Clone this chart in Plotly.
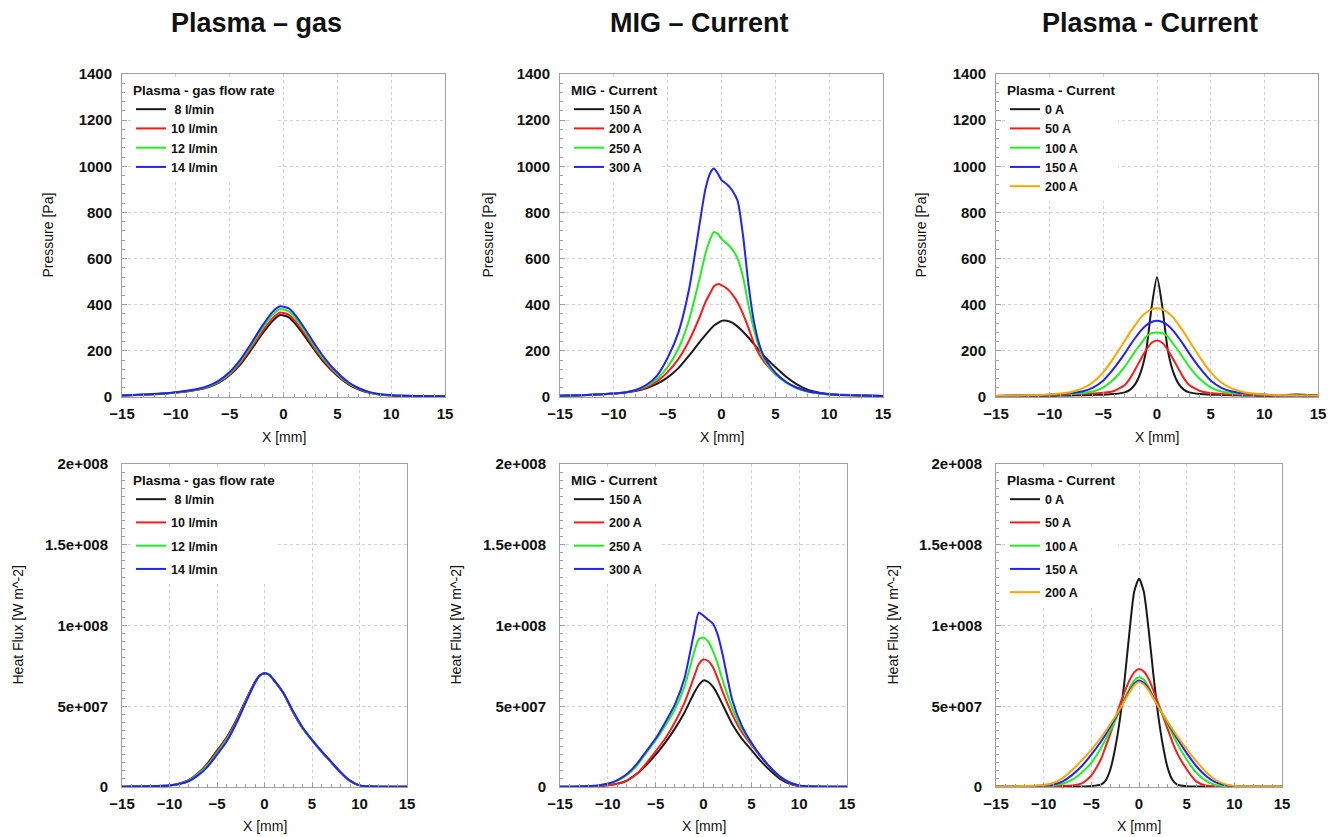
import plotly.graph_objects as go

W, H = 1341, 837
OFF = 8  # page body margin offset, in px
FONT = "Liberation Sans, Arial, sans-serif"

# ---------------- DATA ----------------
# Row 1 : Pressure [Pa]
x_p_gas = [-15, -13, -11, -10, -9, -8, -7, -6, -5, -4, -3, -2, -1, -0.3, 0.5, 1, 2, 3, 4, 5, 6, 7, 8, 9, 10, 11, 13, 15]
p_gas_8 = [6, 10, 15, 19, 24, 31, 42, 62, 95, 142, 205, 272, 330, 355, 345, 322, 262, 196, 138, 92, 56, 32, 18, 10, 7, 5, 3, 2]
p_gas_10 = [6, 10, 15, 19, 25, 32, 44, 65, 99, 148, 213, 282, 342, 366, 356, 333, 272, 204, 144, 96, 59, 34, 19, 11, 7, 5, 3, 2]
p_gas_12 = [7, 11, 16, 20, 26, 34, 46, 68, 103, 155, 223, 295, 357, 381, 371, 347, 284, 213, 151, 101, 62, 36, 20, 11, 8, 5, 3, 2]
p_gas_14 = [7, 11, 16, 21, 27, 35, 48, 71, 108, 162, 232, 306, 370, 393, 384, 360, 295, 222, 158, 106, 65, 38, 21, 12, 8, 5, 4, 3]

x_p_mig = [-15, -13, -11, -10, -9, -8, -7, -6, -5, -4, -3, -2, -1.5, -1, -0.7, -0.3, 0, 0.5, 1, 1.5,
           2, 2.5, 3, 3.5, 4, 5, 6, 7, 8, 9, 10, 11, 13, 15]
p_mig_150 = [5, 8, 12, 15, 19, 26, 38, 57, 85, 125, 180, 240, 268, 295, 310, 322, 330, 330, 322, 305,
             283, 258, 230, 202, 175, 130, 88, 55, 32, 20, 13, 10, 7, 4]
p_mig_200 = [5, 8, 12, 15, 20, 28, 42, 68, 108, 165, 245, 350, 410, 455, 480, 490, 485, 470, 445, 410,
             360, 300, 235, 185, 150, 100, 65, 40, 25, 16, 11, 9, 6, 4]
p_mig_250 = [5, 8, 12, 15, 20, 30, 47, 78, 130, 210, 335, 520, 620, 690, 715, 705, 685, 665, 640, 600,
             520, 400, 295, 215, 160, 100, 62, 38, 24, 16, 11, 9, 6, 4]
p_mig_300 = [5, 8, 12, 15, 20, 30, 52, 92, 170, 280, 470, 760, 900, 975, 990, 965, 940, 922, 895, 850,
             700, 490, 330, 230, 170, 105, 65, 40, 25, 17, 12, 9, 6, 4]

x_p_pc = [-15, -13, -11, -10, -9, -8, -7, -6, -5, -4, -3, -2.5, -2, -1.5, -1, -0.5, 0, 0.5, 1, 1.5,
          2, 2.5, 3, 4, 5, 6, 7, 8, 9, 10, 11, 12, 13, 14, 15]
p_pc_0 = [3, 4, 5, 5, 6, 7, 8, 9, 10, 13, 20, 32, 58, 110, 205, 390, 520, 390, 205, 110,
          58, 32, 20, 13, 10, 9, 8, 7, 6, 5, 6, 9, 11, 9, 6]
p_pc_50 = [4, 6, 8, 9, 10, 12, 13, 15, 18, 26, 52, 82, 122, 165, 205, 235, 245, 235, 205, 165,
           122, 82, 52, 26, 17, 13, 11, 10, 9, 8, 7, 7, 6, 5, 4]
p_pc_100 = [4, 6, 8, 10, 12, 14, 17, 24, 42, 78, 132, 166, 200, 231, 262, 277, 280, 277, 262, 231,
            200, 166, 132, 78, 42, 24, 17, 14, 12, 10, 8, 7, 6, 5, 4]
p_pc_150 = [4, 6, 8, 10, 13, 17, 24, 40, 72, 125, 189, 225, 258, 288, 311, 325, 330, 325, 311, 288,
            258, 225, 189, 125, 72, 40, 24, 17, 13, 10, 8, 7, 6, 5, 4]
p_pc_200 = [5, 7, 9, 11, 15, 22, 36, 63, 108, 172, 244, 281, 314, 345, 366, 380, 385, 380, 366, 345,
            314, 281, 244, 172, 108, 63, 36, 22, 15, 11, 9, 8, 7, 6, 5]

# Row 2 : Heat flux [1e7 W m^-2]
x_h_gas = [-15, -12, -10, -9, -8, -7, -6, -5, -4, -3, -2, -1, -0.5, 0, 0.5, 1, 2, 3, 4, 5, 6, 7, 8, 9, 10, 11, 12, 15]
h_gas_8 = [0.02, 0.05, 0.1, 0.2, 0.42, 0.85, 1.45, 2.25, 3.05, 4.1, 5.35, 6.5, 6.9, 7.05, 6.95, 6.6, 5.8, 4.65, 3.65, 2.9, 2.2, 1.55, 0.9, 0.38, 0.1, 0.04, 0.02, 0.01]
h_gas_10 = [0.02, 0.05, 0.1, 0.2, 0.4, 0.82, 1.4, 2.2, 3.0, 4.05, 5.3, 6.48, 6.9, 7.05, 6.95, 6.6, 5.8, 4.65, 3.65, 2.9, 2.2, 1.55, 0.9, 0.38, 0.1, 0.04, 0.02, 0.01]
h_gas_12 = [0.02, 0.05, 0.1, 0.19, 0.38, 0.78, 1.33, 2.1, 2.9, 3.95, 5.25, 6.45, 6.9, 7.05, 6.95, 6.61, 5.81, 4.67, 3.67, 2.91, 2.21, 1.56, 0.91, 0.39, 0.1, 0.04, 0.02, 0.01]
h_gas_14 = [0.02, 0.05, 0.1, 0.18, 0.35, 0.72, 1.25, 2.0, 2.8, 3.9, 5.2, 6.45, 6.9, 7.05, 6.95, 6.62, 5.82, 4.7, 3.7, 2.92, 2.22, 1.57, 0.92, 0.4, 0.1, 0.04, 0.02, 0.01]

x_h_mig = [-15, -13, -11, -10, -9, -8, -7, -6, -5, -4, -3, -2, -1, -0.5, 0, 0.5, 1, 1.5, 2, 3,
           4, 5, 6, 7, 8, 9, 10, 11, 13, 15]
h_mig_150 = [0.01, 0.02, 0.05, 0.1, 0.2, 0.4, 0.8, 1.35, 2.0, 2.75, 3.6, 4.6, 5.8, 6.3, 6.6, 6.5, 6.2, 5.7, 5.1, 3.9,
             3.0, 2.3, 1.6, 1.0, 0.5, 0.2, 0.06, 0.03, 0.02, 0.01]
h_mig_200 = [0.01, 0.02, 0.05, 0.1, 0.2, 0.4, 0.8, 1.45, 2.2, 3.0, 4.0, 5.2, 6.8, 7.6, 7.9, 7.8, 7.4, 6.7, 5.9, 4.5,
             3.4, 2.6, 1.85, 1.2, 0.6, 0.25, 0.08, 0.04, 0.02, 0.01]
h_mig_250 = [0.01, 0.03, 0.1, 0.2, 0.4, 0.75, 1.3, 2.1, 2.9, 3.8, 4.8, 6.2, 8.3, 9.15, 9.25, 9.0, 8.4, 7.6, 6.6, 4.9,
             3.6, 2.7, 1.9, 1.2, 0.65, 0.28, 0.1, 0.05, 0.02, 0.01]
h_mig_300 = [0.01, 0.03, 0.1, 0.2, 0.42, 0.8, 1.4, 2.2, 3.0, 4.0, 5.1, 6.7, 9.5, 10.8, 10.6, 10.35, 10.1, 9.4, 8.2, 5.4,
             3.8, 2.75, 1.9, 1.2, 0.65, 0.28, 0.1, 0.05, 0.02, 0.01]

x_h_pc = [-15, -13, -11, -10, -9, -8, -7, -6, -5, -4, -3.5, -3, -2.5, -2, -1.5, -1, -0.5, 0, 0.5, 1,
          1.5, 2, 2.5, 3, 3.5, 4, 5, 6, 7, 8, 9, 10, 11, 13, 15]
h_pc_0 = [0.01, 0.01, 0.01, 0.01, 0.01, 0.01, 0.02, 0.03, 0.06, 0.15, 0.4, 1.1, 2.4, 4.2, 6.7, 9.6, 12.1, 12.9, 12.1, 9.8,
          7.0, 4.5, 2.6, 1.2, 0.45, 0.15, 0.05, 0.03, 0.02, 0.01, 0.01, 0.01, 0.01, 0.01, 0.01]
h_pc_50 = [0.01, 0.02, 0.03, 0.04, 0.05, 0.07, 0.1, 0.22, 0.7, 1.7, 2.5, 3.3, 4.2, 5.1, 5.9, 6.6, 7.1, 7.3, 7.15, 6.7,
           6.0, 5.2, 4.4, 3.6, 2.8, 2.1, 1.1, 0.35, 0.1, 0.06, 0.04, 0.03, 0.02, 0.02, 0.01]
h_pc_100 = [0.01, 0.03, 0.05, 0.07, 0.1, 0.2, 0.45, 0.9, 1.5, 2.4, 2.95, 3.5, 4.1, 4.8, 5.5, 6.1, 6.6, 6.8, 6.65, 6.2,
            5.6, 5.0, 4.45, 3.9, 3.3, 2.7, 1.7, 0.9, 0.4, 0.12, 0.06, 0.04, 0.03, 0.02, 0.01]
h_pc_150 = [0.01, 0.03, 0.06, 0.09, 0.15, 0.35, 0.75, 1.3, 2.0, 2.8, 3.25, 3.75, 4.25, 4.8, 5.4, 5.95, 6.4, 6.6, 6.45, 6.1,
            5.55, 5.0, 4.5, 4.0, 3.5, 3.0, 2.1, 1.3, 0.7, 0.3, 0.12, 0.05, 0.03, 0.02, 0.01]
h_pc_200 = [0.02, 0.04, 0.08, 0.12, 0.25, 0.55, 1.05, 1.65, 2.3, 3.05, 3.45, 3.9, 4.35, 4.85, 5.35, 5.85, 6.3, 6.5, 6.35, 6.0,
            5.5, 5.0, 4.5, 4.05, 3.6, 3.15, 2.35, 1.6, 0.95, 0.45, 0.18, 0.07, 0.04, 0.03, 0.02]
HF_UNIT = 1e7

col_titles = ["Plasma \u2013 gas", "MIG \u2013 Current", "Plasma - Current"]
legend_titles = ["Plasma - gas flow rate", "MIG - Current", "Plasma - Current"]
gas_names = [" 8 l/min", "10 l/min", "12 l/min", "14 l/min"]
mig_names = ["150 A", "200 A", "250 A", "300 A"]
pc_names = ["0 A", "50 A", "100 A", "150 A", "200 A"]
x_ticks = [-15, -10, -5, 0, 5, 10, 15]
p_ticks = [0, 200, 400, 600, 800, 1000, 1200, 1400]
h_ticks = [0, 5e7, 1e8, 1.5e8, 2e8]
h_ticktext = ["0", "5e+007", "1e+008", "1.5e+008", "2e+008"]

COLORS = ["#1a1a1a", "#ff1a1a", "#22ee22", "#2222ff", "#ffa500"]

# ---------------- LAYOUT (pixel boxes, screen coords) ----------------
boxes = [
    (122, 74, 445, 397), (560, 74, 883, 397), (996, 74, 1318, 397),
    (122, 464, 407, 787), (560, 464, 847, 787), (996, 464, 1282, 787),
]

panels = [
    (x_p_gas, [p_gas_8, p_gas_10, p_gas_12, p_gas_14], gas_names, 1.0),
    (x_p_mig, [p_mig_150, p_mig_200, p_mig_250, p_mig_300], mig_names, 1.0),
    (x_p_pc, [p_pc_0, p_pc_50, p_pc_100, p_pc_150, p_pc_200], pc_names, 1.0),
    (x_h_gas, [h_gas_8, h_gas_10, h_gas_12, h_gas_14], gas_names, HF_UNIT),
    (x_h_mig, [h_mig_150, h_mig_200, h_mig_250, h_mig_300], mig_names, HF_UNIT),
    (x_h_pc, [h_pc_0, h_pc_50, h_pc_100, h_pc_150, h_pc_200], pc_names, HF_UNIT),
]

fig = go.Figure()
layout = dict(
    width=W, height=H, margin=dict(l=0, r=0, t=0, b=0, autoexpand=False),
    paper_bgcolor="white", plot_bgcolor="white",
    font=dict(family=FONT, size=14, color="#111"),
    annotations=[],
)

def px_x(v):
    return (v - OFF) / W

def px_y(v):
    return 1 - (v - OFF) / H

for i, ((xs, ys_list, names, unit), box) in enumerate(zip(panels, boxes)):
    n = i + 1
    sfx = "" if n == 1 else str(n)
    l, t, r, b = box
    leg = "legend" + sfx
    for j, (ys, nm) in enumerate(zip(ys_list, names)):
        fig.add_trace(go.Scatter(
            x=xs, y=[v * unit for v in ys], mode="lines", name=nm,
            line=dict(color=COLORS[j], width=2, shape="spline", smoothing=0.6),
            xaxis="x" + sfx, yaxis="y" + sfx, legend=leg,
            legendgroup=f"g{n}_{j}",
        ))
    top_row = i < 3
    axcommon = dict(
        automargin=False,
        showline=True, mirror=True, linecolor="#a0a0a0", linewidth=1,
        showgrid=True, gridcolor="#d0d0d0", griddash="dot", gridwidth=1,
        ticks="inside", ticklen=5, tickcolor="#a0a0a0",
        zeroline=False, tickfont=dict(family=FONT, size=15, color="#111", weight="bold"),
    )
    layout["xaxis" + sfx] = dict(
        axcommon, domain=[px_x(l), px_x(r)], anchor="y" + sfx, range=[-15, 15],
        tickvals=x_ticks, ticklabelstandoff=3,
        minor=dict(ticks="inside", ticklen=3, dtick=1, tickcolor="#a0a0a0", showgrid=False),
    )
    if top_row:
        yextra = dict(range=[0, 1400], tickvals=p_ticks,
                      minor=dict(ticks="inside", ticklen=3, dtick=40, tickcolor="#a0a0a0", showgrid=False))
    else:
        yextra = dict(range=[0, 2e8], tickvals=h_ticks, ticktext=h_ticktext,
                      minor=dict(ticks="inside", ticklen=3, dtick=5e6, tickcolor="#a0a0a0", showgrid=False))
    layout["yaxis" + sfx] = dict(
        axcommon, domain=[px_y(b), px_y(t)], anchor="x" + sfx,
        ticklabelstandoff=6 if top_row else 10, **yextra,
    )
    legcol = i % 3
    layout[leg] = dict(
        x=px_x(l + 9), y=px_y(t + 3), xanchor="left", yanchor="top",
        bgcolor="rgba(255,255,255,1)", borderwidth=0,
        font=dict(family=FONT, size=12.5, color="#111", weight="bold"),
        title=dict(text=legend_titles[legcol], font=dict(family=FONT, size=13.5, color="#111", weight="bold")),
        tracegroupgap=0 if top_row else 4,
        itemwidth=30,
    )
    ytitle = "Pressure [Pa]" if top_row else "Heat Flux [W m^-2]"
    ytx = [47, 487, 920, 17, 455, 892][i]
    layout["annotations"].append(dict(
        text=ytitle, x=px_x(ytx), y=px_y((t + b) / 2), xref="paper", yref="paper",
        showarrow=False, textangle=-90, font=dict(family=FONT, size=14, color="#111"),
        xanchor="center", yanchor="middle",
    ))
    xty = 437 if top_row else 826
    layout["annotations"].append(dict(
        text="X [mm]", x=px_x((l + r) / 2), y=px_y(xty), xref="paper", yref="paper",
        showarrow=False, font=dict(family=FONT, size=14, color="#111"),
        xanchor="center", yanchor="middle",
    ))

for cx, txt in zip([256, 700, 1150], col_titles):
    layout["annotations"].append(dict(
        text=txt, x=px_x(cx), y=px_y(23), xref="paper", yref="paper", showarrow=False,
        font=dict(family=FONT, size=27, color="#111", weight="bold"),
        xanchor="center", yanchor="middle",
    ))

fig.update_layout(**layout)
fig.write_html("out.html")
